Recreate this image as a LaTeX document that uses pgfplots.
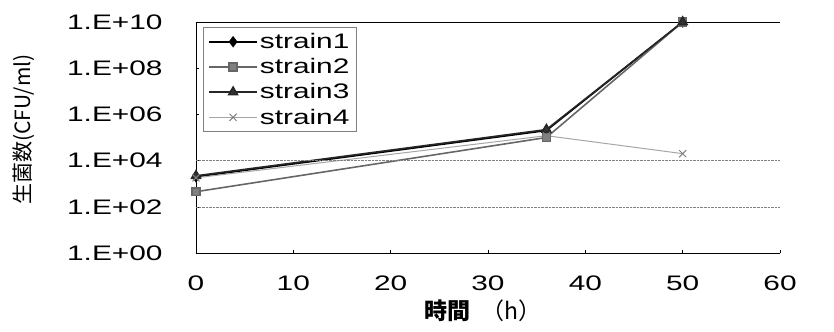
\documentclass[border=0pt]{standalone}
\usepackage{pgfplots}
\pgfplotsset{compat=1.18}
\usepackage{fontspec}
\setmainfont{Liberation Sans}
\newfontfamily\wide{Liberation Sans}[FakeStretch=1.42]
\newfontfamily\cjk{Noto Sans CJK JP}
\usetikzlibrary{calc}
\begin{document}
\begin{tikzpicture}
\begin{axis}[
  name=ax,
  scale only axis,
  width=584bp, height=231bp,
  xmin=0, xmax=60,
  ymode=log, ymin=1, ymax=1e10,
  axis x line*=bottom, axis y line*=left,
  xtick={0,10,20,30,40,50,60},
  xticklabels={0,10,20,30,40,50,60},
  ytick={1,1e2,1e4,1e6,1e8,1e10},
  yticklabels={1.E+00,1.E+02,1.E+04,1.E+06,1.E+08,1.E+10},
  minor ytick={},
  /pgf/number format/assume math mode=true,
  ticklabel style={font=\wide\fontsize{21bp}{24bp}\selectfont},
  yticklabel style={xshift=-30bp},
  xticklabel style={yshift=-19bp},
  tick style={black, thin},
  major tick length=3bp,
  tick align=inside,
  axis line style={black, line width=1pt, -},
  xlabel={\cjk{\bfseries 時間}\hspace{0.5em}（h）},
  ylabel={\cjk 生菌数(CFU/ml)},
  xlabel style={font=\fontsize{23bp}{26bp}\selectfont, at={(axis description cs:0.491,-0.251)}, anchor=center},
  ylabel style={font=\fontsize{21bp}{24bp}\selectfont, at={(axis description cs:-0.2945,0.535)}, anchor=center},
  legend style={at={(0.012,0.978)}, anchor=north west, draw=gray, line width=0.6pt,
    font=\wide\fontsize{21bp}{24bp}\selectfont, row sep=4.5bp, inner xsep=5bp, inner ysep=4bp,
    cells={anchor=west}},
  legend cell align=left,
  legend image code/.code={%
    \draw[mark repeat=2,mark phase=2] plot coordinates {(0bp,0bp) (24bp,0bp) (48bp,0bp)};},
]
\addplot[black, line width=1.6pt, mark=diamond*, mark size=4.5pt, mark options={fill=black}]
  coordinates {(0,2000) (36,200000) (50,1e10)};
\addlegendentry{strain1}
\addplot[gray!80!black, line width=1.6pt, mark=square*, mark size=4pt, mark options={fill=gray}]
  coordinates {(0,450) (36,100000) (50,1e10)};
\addlegendentry{strain2}
\addplot[black!85, line width=1.6pt, mark=triangle*, mark size=5pt, mark options={fill=black!80}]
  coordinates {(0,2200) (36,220000) (50,1e10)};
\addlegendentry{strain3}
\addplot[gray!70, line width=1pt, mark=x, mark size=5pt, mark options={gray}]
  coordinates {(0,1800) (36,120000) (50,20000)};
\addlegendentry{strain4}
\draw[gray, densely dotted, thin] (axis cs:0,100) -- (axis cs:60,100);
\draw[gray, densely dotted, thin] (axis cs:0,10000) -- (axis cs:60,10000);
\draw[black, thin] (axis cs:0,1e10) -- (axis cs:60,1e10);
\end{axis}
\path[use as bounding box] ($(ax.south west)+(-196bp,-78bp)$) rectangle ($(ax.north east)+(54bp,22bp)$);
\end{tikzpicture}
\end{document}
